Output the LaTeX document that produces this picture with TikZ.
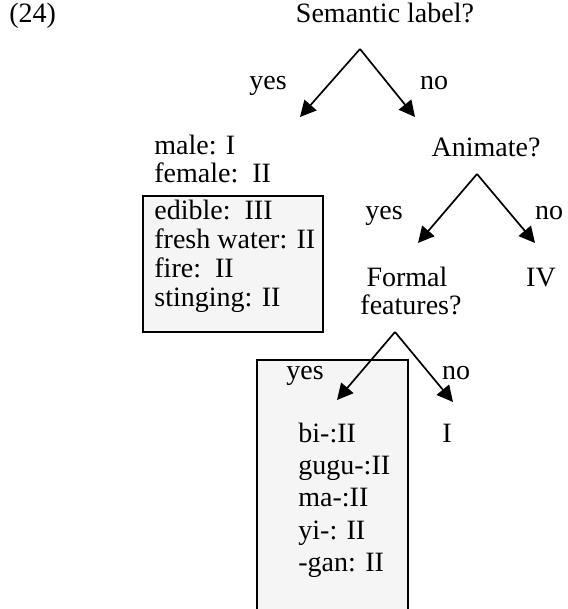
\documentclass[tikz,border=0pt]{standalone}
\usepackage{fontspec}
\setmainfont{Liberation Serif}
\usetikzlibrary{arrows.meta,positioning}

\tikzset{
  lbl/.style={inner sep=0pt, anchor=mid, font=\fontsize{14}{16}\selectfont},
  lft/.style={lbl, anchor=mid west},
  shadebox/.style={draw, line width=0.9pt, fill=gray!8},
  branch/.style={line width=0.85pt, -{Triangle[length=8pt, width=8pt]}}
}

\begin{document}
\begin{tikzpicture}[x=0.5pt, y=-0.5pt]
    \useasboundingbox (0,0) rectangle (567,609);

    % shaded boxes
    \path[shadebox] (143,196) rectangle (323,332);
    \fill[gray!8] (257,360) rectangle (408,609);
    \draw[line width=0.9pt] (257,609) -- (257,360) -- (408,360) -- (408,609);

    \node (num) [lft] at (9,18) {(24)};

    % first question
    \node (semq) [lbl] at (385,18) {Semantic label?};
    \coordinate (semfork) at (360,49);
    \coordinate (semyes) at (300,117);
    \coordinate (semno) at (415,117);
    \node (yesA) [lbl] at (268,85) {yes};
    \node (noA) [lbl] at (434,85) {no};
    \draw [branch] (semfork) -- (semyes);
    \draw [branch] (semfork) -- (semno);

    % labels
    \node (male) [lft] at (154,150) {male: I};
    \node (female) [lft] at (154,178) {female:\ \ II};
    \node (edible) [lft] at (154,215) {edible:\ \ III};
    \node (fresh) [lft] at (154,244) {fresh water: II};
    \node (fire) [lft] at (154,273) {fire:\ \ II};
    \node (sting) [lft] at (154,302) {stinging: II};

    % second question
    \node (animq) [lbl] at (486,152) {Animate?};
    \coordinate (animfork) at (477,174);
    \coordinate (animyes) at (418,243);
    \coordinate (animno) at (535,243);
    \node (yesB) [lbl] at (384,215) {yes};
    \node (noB) [lbl] at (549,215) {no};
    \draw [branch] (animfork) -- (animyes);
    \draw [branch] (animfork) -- (animno);
    \node (four) [lbl] at (541,282) {IV};

    % third question
    \node (formal) [lbl] at (407,282) {Formal};
    \node (feat) [lbl] at (411,310) {features?};
    \coordinate (featfork) at (395,332);
    \coordinate (featyes) at (337,400);
    \coordinate (featno) at (453,402);
    \node (yesC) [lft] at (286,375) {yes};
    \node (noC) [lbl] at (456,375) {no};
    \draw [branch] (featfork) -- (featyes);
    \draw [branch] (featfork) -- (featno);
    \node (one) [lbl] at (447,438) {I};

    % formal features
    \node (bi) [lft] at (298,438) {bi-:II};
    \node (gugu) [lft] at (298,470) {gugu-:II};
    \node (ma) [lft] at (298,502) {ma-:II};
    \node (yi) [lft] at (298,535) {yi-: II};
    \node (gan) [lft] at (298,567) {-gan: II};
\end{tikzpicture}
\end{document}
